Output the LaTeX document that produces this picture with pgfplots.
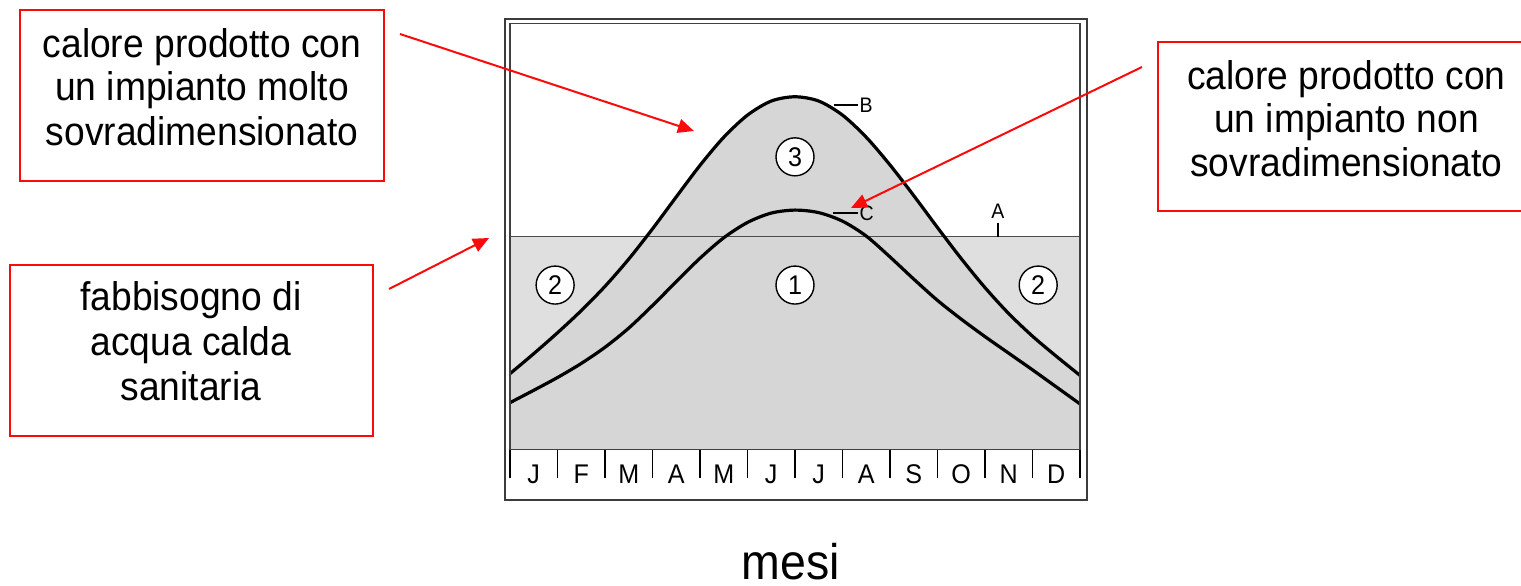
\documentclass[border=0pt]{standalone}
\usepackage{fontspec}
\setmainfont{Liberation Sans}[FakeStretch=0.93]
\usepackage{pgfplots}
\usepackage{pgfplotstable}
\pgfplotsset{compat=1.18}
\usetikzlibrary{arrows.meta}

\definecolor{cred}{RGB}{250,10,10}
\definecolor{cfill}{RGB}{214,214,214}
\definecolor{cpale}{RGB}{223,223,223}
\definecolor{cframe}{RGB}{60,60,60}

% calore prodotto, impianto molto sovradimensionato (B)
\pgfplotstableread{
x y
0 17.8
0.5 22.5
1 27.4
1.5 32.6
2 38.3
2.5 44.7
3 51.8
3.5 59.3
4 66.7
4.5 73.3
5 78.5
5.5 81.8
6 82.8
6.5 81.8
7 78.5
7.5 73.3
8 66.8
8.5 59.6
9 52.1
9.5 44.8
10 38.0
10.5 31.9
11 26.6
11.5 21.9
12 17.4
}\curveB

% calore prodotto, impianto non sovradimensionato (C)
\pgfplotstableread{
x y
0 11.0
0.5 13.9
1 16.9
1.5 20.2
2 24.0
2.5 28.5
3 33.8
3.5 39.4
4 44.9
4.5 49.7
5 53.3
5.5 55.5
6 56.2
6.5 55.6
7 53.6
7.5 50.1
8 45.2
8.5 40.0
9 35.0
9.5 30.6
10 26.5
10.5 22.6
11 18.7
11.5 14.7
12 10.7
}\curveC

\newcommand\boxfont{\fontsize{20pt}{22pt}\selectfont}

\begin{document}
\begin{tikzpicture}[
  circ/.style={circle, draw=black, line width=0.7pt, fill=white,
    minimum size=19pt, inner sep=0pt, font=\fontsize{13.5pt}{13.5pt}\selectfont},
  lab/.style={font=\fontsize{10.5pt}{10.5pt}\selectfont, inner sep=0.5pt},
]
\useasboundingbox (-255pt,224.75pt) rectangle (505.5pt,-67.75pt);
\begin{axis}[
  at={(0,0)}, anchor=south west,
  scale only axis, width=285pt, height=213pt,
  xmin=0, xmax=12, ymin=0, ymax=100,
  axis on top,
  axis line style={draw=black!75, line width=0.9pt},
  xtick={0.5,1.5,...,11.5},
  xticklabels={J,F,M,A,M,J,J,A,S,O,N,D},
  xticklabel style={font=\fontsize{13.5pt}{15pt}\selectfont, anchor=base, yshift=-16.75pt},
  major tick length=0pt,
  xtick pos=bottom,
  ytick=\empty,
  extra x ticks={0,1,...,12},
  extra x tick labels={},
  extra x tick style={tick align=outside, major tick length=14pt,
    tick style={black, line width=0.75pt}},
]
  \addplot[fill=cpale, draw=none] coordinates {(0,50) (12,50)} \closedcycle;
  \addplot[fill=cfill, draw=none, smooth] table {\curveB} \closedcycle;
  \addplot[black!70, line width=0.8pt] coordinates {(0,50) (12,50)};
  \addplot[black, line width=1.6pt, smooth] table {\curveC};
  \addplot[black, line width=1.6pt, smooth] table {\curveB};

  \node[circ] at (axis cs:6,68.7) {3};
  \node[circ] at (axis cs:6,38.6) {1};
  \node[circ] at (axis cs:0.95,38.6) {2};
  \node[circ] at (axis cs:11.12,38.6) {2};

  \draw[black, line width=0.8pt] (axis cs:6.82,80.9) -- (axis cs:7.33,80.9);
  \node[lab, anchor=west] at (axis cs:7.33,80.9) {B};
  \draw[black, line width=0.8pt] (axis cs:6.8,55.5) -- (axis cs:7.33,55.5);
  \node[lab, anchor=west] at (axis cs:7.33,55.5) {C};
  \draw[black, line width=0.8pt] (axis cs:10.27,50) -- (axis cs:10.27,53.2);
  \node[lab] at (axis cs:10.27,55.9) {A};
\end{axis}

\begin{scope}[x=0.5pt, y=-0.5pt, shift={(-255pt,224.75pt)}]
  \draw[cframe, line width=1pt] (505,19) rectangle (1087,500);

  \draw[cred, line width=1.1pt] (20,10) rectangle (384,181);
  \node[anchor=base, font=\boxfont] at (202,57) {calore prodotto con};
  \node[anchor=base, font=\boxfont] at (202,100) {un impianto molto};
  \node[anchor=base, font=\boxfont] at (202,145.5) {sovradimensionato};

  \draw[cred, line width=1.1pt] (10,265) rectangle (373,436);
  \node[anchor=base, font=\boxfont] at (191,310) {fabbisogno di};
  \node[anchor=base, font=\boxfont] at (191,355) {acqua calda};
  \node[anchor=base, font=\boxfont] at (191,400) {sanitaria};

  \draw[cred, line width=1.1pt] (1158,42) rectangle (1545,211);
  \node[anchor=base, font=\boxfont] at (1346.5,89) {calore prodotto con};
  \node[anchor=base, font=\boxfont] at (1346.5,132) {un impianto non};
  \node[anchor=base, font=\boxfont] at (1346.5,176.5) {sovradimensionato};

  \draw[cred, line width=1pt, -{Triangle[length=8pt,width=7pt]}] (400,34) -- (694,131);
  \draw[cred, line width=1pt, -{Triangle[length=8pt,width=7pt]}] (389,289) -- (489,238);
  \draw[cred, line width=1pt, -{Triangle[length=8pt,width=7pt]}] (1142,67) -- (851,208);

  \node[anchor=base, inner sep=0pt, font=\fontsize{25pt}{25pt}\selectfont] at (791,579) {mesi};
\end{scope}
\end{tikzpicture}
\end{document}
